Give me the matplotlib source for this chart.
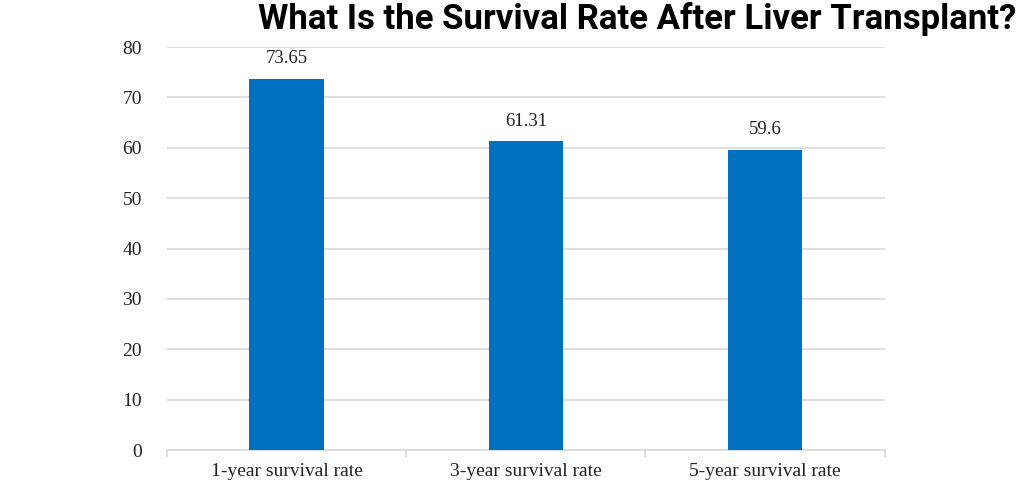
import numpy as np
import matplotlib.pyplot as plt

# chart data
categories = ['1-year survival rate', '3-year survival rate', '5-year survival rate']
rates = [73.65, 61.31, 59.6]
rate_labels = ['73.65', '61.31', '59.6']
y_ticks = [0, 10, 20, 30, 40, 50, 60, 70, 80]

bar_color = '#0070C0'
grid_color = '#D9D9D9'

fig = plt.figure(figsize=(10.24, 4.96), dpi=100)
ax = fig.add_axes([0.163, 0.0927, 0.701, 0.8125])

x = np.arange(len(categories))
bars = ax.bar(x, rates, width=0.31, color=bar_color, zorder=3)

for b, lab in zip(bars, rate_labels):
    ax.text(b.get_x() + b.get_width() / 2, b.get_height() + 2.3, lab,
            ha='center', va='bottom', fontsize=13.5, family='Liberation Serif',
            color='#222222')

ax.set_xlim(-0.5, len(categories) - 0.5)
ax.set_ylim(0, 80)
ax.set_yticks(y_ticks)
ax.set_yticklabels([str(v) for v in y_ticks], family='Liberation Serif', fontsize=14)
ax.set_xticks(x)
ax.set_xticklabels(categories, family='Liberation Serif', fontsize=14)
ax.tick_params(axis='x', length=0, pad=9, colors='#222222')
ax.tick_params(axis='y', length=0, pad=18, colors='#222222')

# category separator ticks
ax.set_xticks(np.arange(-0.5, len(categories)), minor=True)
ax.tick_params(axis='x', which='minor', length=5, color=grid_color, width=1.2)

ax.yaxis.grid(True, color=grid_color, linewidth=1.2, zorder=0)
for s in ['left', 'right', 'top']:
    ax.spines[s].set_visible(False)
ax.spines['bottom'].set_color(grid_color)
ax.spines['bottom'].set_linewidth(1.2)

fig.text(0.622, 0.962, 'What Is the Survival Rate After Liver Transplant?',
         ha='center', va='center', fontsize=25, fontweight='bold', family='Roboto')

fig.savefig('out.png', dpi=100)
